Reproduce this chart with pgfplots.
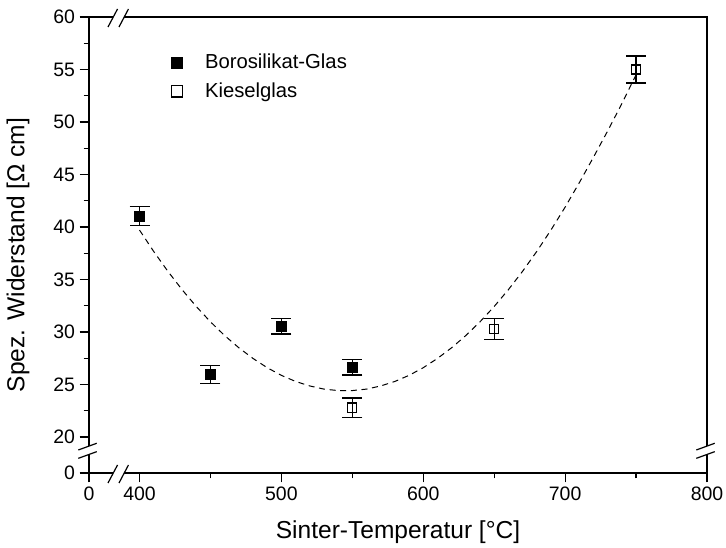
\documentclass[border=0pt]{standalone}
\usepackage{fontspec}
\setmainfont{Liberation Sans}
\usepackage{pgfplots}
\pgfplotsset{compat=1.18}
\begin{document}
\begin{tikzpicture}
\begin{axis}[
  at={(0,0)}, anchor=south west,
  scale only axis, width=463.5pt, height=342pt,
  xmin=364.4, xmax=800, ymin=16.571, ymax=60,
  axis line style={line width=1.1pt},
  every tick/.style={black, line width=0.9pt},
  tick align=outside, xtick pos=bottom, ytick pos=left,
  major tick length=7pt, minor tick length=4pt,
  xtick={364.4,400,500,600,700,800},
  xticklabels={0,400,500,600,700,800},
  minor xtick={450,550,650,750},
  ytick={16.571,20,25,30,35,40,45,50,55,60},
  yticklabels={0,20,25,30,35,40,45,50,55,60},
  minor ytick={22.5,27.5,32.5,37.5,42.5,47.5,52.5,57.5},
  /pgf/number format/assume math mode=true,
  tick label style={font=\fontsize{14.6}{17}\selectfont},
  xlabel={Sinter-Temperatur [°C]},
  ylabel={Spez. Widerstand [Ω cm]},
  label style={font=\fontsize{18.4}{22}\selectfont},
  xlabel style={at={(rel axis cs:0.5,-0.129)}, anchor=center},
  ylabel style={at={(rel axis cs:-0.115,0.478)}, anchor=center},
  clip=false,
  legend style={at={(rel axis cs:0.126,0.931)}, anchor=north west, draw=none, fill=none,
    font=\fontsize{15.2}{18}\selectfont, row sep=5.25pt, column sep=15pt},
  legend cell align=left,
  legend image code/.code={\draw[#1, draw=none, mark size=4.2pt] plot coordinates {(0cm,0cm)};},
]
\addplot[black, line width=0.75pt, dash pattern=on 4.5pt off 3.5pt, forget plot] coordinates {
(400,39.71)(410,37.67)(420,35.78)(430,34.03)(440,32.43)(450,30.97)(460,29.66)(470,28.50)
(480,27.48)(490,26.60)(500,25.87)(510,25.29)(520,24.86)(530,24.56)(540,24.42)(550,24.42)
(560,24.56)(570,24.86)(580,25.29)(590,25.87)(600,26.60)(610,27.48)(620,28.50)(630,29.66)
(640,30.97)(650,32.43)(660,34.03)(670,35.78)(680,37.67)(690,39.71)(700,41.89)(710,44.22)
(720,46.65)(730,49.15)(740,51.75)(750,54.5)};
\addplot[black, only marks, mark=square*, mark size=3.8pt,
  error bars/.cd, y dir=both, y explicit,
  error bar style={line width=1pt},
  error mark options={rotate=90, mark size=7.5pt, line width=1pt}]
  coordinates {
  (400,41.05) +- (0,0.9)
  (450,25.95) +- (0,0.84)
  (500,30.55) +- (0,0.75)
  (550,26.65) +- (0,0.75)
};
\addlegendentry{Borosilikat-Glas}
\addplot[black, only marks, mark=square, mark size=3.4pt, mark options={line width=0.9pt},
  error bars/.cd, y dir=both, y explicit,
  error bar style={line width=1pt},
  error mark options={rotate=90, mark size=7.5pt, line width=1pt}]
  coordinates {
  (550,22.8) +- (0,0.92)
  (650,30.3) +- (0,1.0)
  (750,55.0) +- (0,1.29)
};
\addlegendentry{Kieselglas}
\end{axis}
% axis break marks
\foreach \yy in {0,342} {
  \fill[white] (14.25pt,\yy pt-7.5pt) -- (21.4pt,\yy pt+6pt) -- (29.6pt,\yy pt+6pt) -- (22.5pt,\yy pt-7.5pt) -- cycle;
  \draw[line width=0.9pt] (14.25pt,\yy pt-7.5pt) -- (21.4pt,\yy pt+6pt);
  \draw[line width=0.9pt] (22.5pt,\yy pt-7.5pt) -- (29.6pt,\yy pt+6pt);
}
\foreach \xx in {0,463.5} {
  \fill[white] (\xx pt-8pt,17.25pt) -- (\xx pt+5.8pt,22.3pt) -- (\xx pt+5.8pt,16pt) -- (\xx pt-8pt,11pt) -- cycle;
  \draw[line width=0.9pt] (\xx pt-8pt,17.25pt) -- (\xx pt+5.8pt,22.3pt);
  \draw[line width=0.9pt] (\xx pt-8pt,11pt) -- (\xx pt+5.8pt,16pt);
}
\pgfresetboundingbox
\path (-66.75pt,-56.25pt) rectangle (477.75pt,354.75pt);
\end{tikzpicture}
\end{document}
